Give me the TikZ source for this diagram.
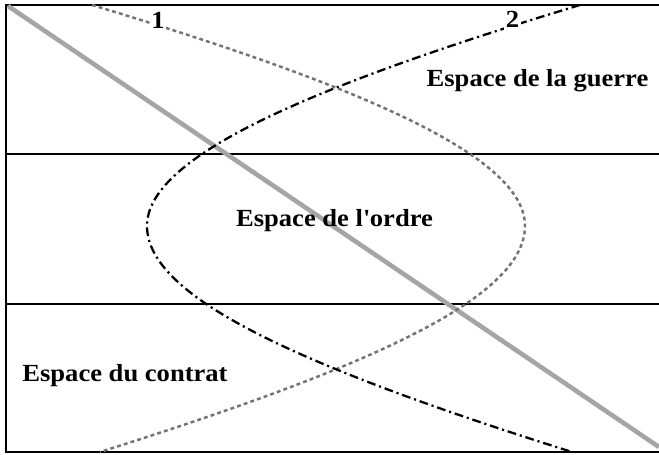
\documentclass[tikz,border=0pt]{standalone}
\usepackage{fontspec}
\setmainfont[FakeStretch=1.08]{Liberation Serif}
\usepackage{xcolor}
\usepackage{tikz}
\definecolor{diaggray}{RGB}{165,165,165}
\definecolor{curvegray}{RGB}{115,115,115}
\tikzset{
  zone/.style={font=\fontsize{14}{16}\selectfont\bfseries, anchor=base, inner sep=0pt},
  curvelabel/.style={zone, fill=white, inner sep=1pt},
  frameline/.style={line width=1.1pt, black}
}

\begin{document}
\begin{tikzpicture}
\useasboundingbox (0,0) rectangle (13.18,9.10);

% Frame and bands
\draw[frameline] (13.18,9.00) -- (0.12,9.00) -- (0.12,0.06) -- (13.18,0.06);
\draw[frameline] (0.12,6.02) -- (13.18,6.02);
\draw[frameline] (0.12,3.02) -- (13.18,3.02);

% Diagonal
\draw[diaggray, line width=2.6pt] (0.16,8.98) -- (13.18,0.16);

% Curve 1
\draw[curvegray, line width=1.4pt, dash pattern=on 2.2pt off 1.8pt]
  (1.84,9.00) .. controls (7.20,7.38) and (10.50,5.98) .. (10.50,4.58)
  .. controls (10.50,3.10) and (7.20,1.70) .. (2.00,0.06);

% Curve 2
\draw[black, line width=1.3pt, dash pattern=on 5pt off 2.2pt on 1.2pt off 2.2pt]
  (11.60,9.00) .. controls (6.24,7.38) and (2.94,5.98) .. (2.94,4.58)
  .. controls (2.94,3.10) and (6.24,1.70) .. (11.44,0.06);

% Curve numbers
\node[curvelabel] (un) at (3.16,8.52) {1};
\node[curvelabel] (deux) at (10.25,8.54) {2};

% Spaces
\node[zone] (guerre) at (10.75,7.36) {Espace de la guerre};
\node[zone] (ordre) at (6.69,4.56) {Espace de l\textquotesingle ordre};
\node[zone] (contrat) at (2.50,1.46) {Espace du contrat};
\end{tikzpicture}
\end{document}
